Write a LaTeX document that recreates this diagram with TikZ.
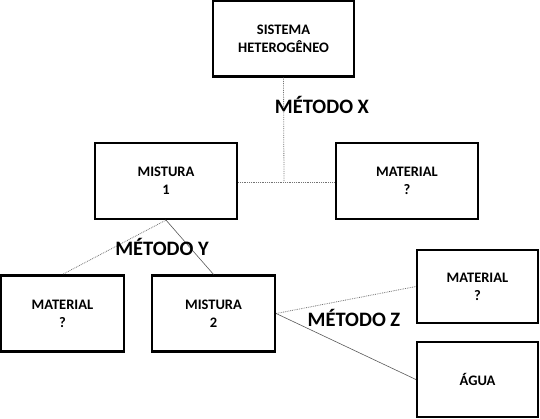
\documentclass[tikz,border=0pt]{standalone}
\usepackage{fontspec}
\setmainfont{Carlito}
\begin{document}
\begin{tikzpicture}[x=1pt,y=-1pt,
  boxn/.style={draw=black,line width=2.2pt,fill=white,inner sep=0pt,align=center,font=\bfseries\fontsize{14.5}{18}\selectfont},
  conn/.style={draw=gray!90!black,line width=0.8pt,densely dotted},
  conns/.style={draw=gray!70!black,line width=0.6pt},
  lbl/.style={font=\bfseries\fontsize{20.5}{22}\selectfont,inner sep=0pt}]
\useasboundingbox (0,0) rectangle (540,419);
\node[boxn,minimum width=141pt,minimum height=76pt] (sis) at (283.5,38.5) {SISTEMA\\HETEROGÊNEO};
\node[boxn,minimum width=142pt,minimum height=76pt] (m1) at (166,181) {MISTURA\\1};
\node[boxn,minimum width=142pt,minimum height=76pt] (matA) at (407,181) {MATERIAL\\?};
\node[boxn,minimum width=123pt,minimum height=76pt] (matB) at (62.5,313.5) {MATERIAL\\?};
\node[boxn,minimum width=123pt,minimum height=76pt] (m2) at (213.5,313.5) {MISTURA\\2};
\node[boxn,minimum width=121pt,minimum height=73pt] (matC) at (477.5,286.5) {MATERIAL\\?};
\node[boxn,minimum width=121pt,minimum height=75pt] (agua) at (477.5,379.5) {ÁGUA};
\coordinate (j) at (284,182);
\draw[conn] (sis.south) -- (j);
\draw[conn] (m1.east |- j) -- (matA.west |- j);
\draw[conn] (m1.south) -- (matB.north);
\draw[conns] (m1.south) -- (m2.north);
\draw[conn] (m2.east) -- (matC.west);
\draw[conns] (m2.east) -- (agua.west);
\node[lbl] (lx) at (322,105) {MÉTODO X};
\node[lbl] (ly) at (162,247) {MÉTODO Y};
\node[lbl] (lz) at (354,318) {MÉTODO Z};
\end{tikzpicture}
\end{document}
